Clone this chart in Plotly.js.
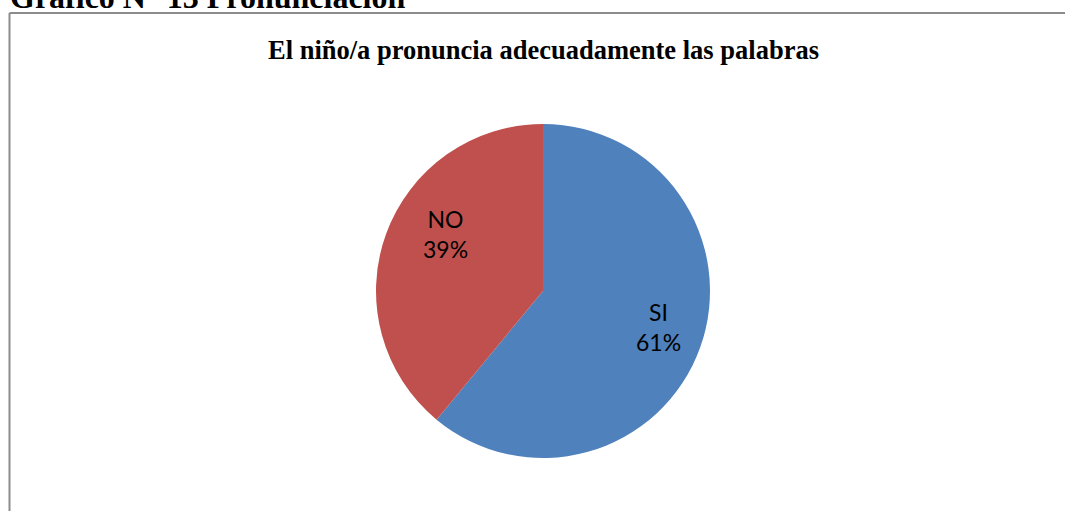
<!DOCTYPE html>
<html>
<head>
<meta charset="utf-8">
<script src="https://cdn.plot.ly/plotly-3.0.1.min.js"></script>
<style>html,body{margin:0;padding:0;background:#fff;}#chart{width:1065px;height:511px;}</style>
</head>
<body>
<div id="chart"></div>
<script>
var categories = ["SI", "NO"];
var values = [61, 39];
var colors = ["#4F81BD", "#C0504D"];
var chartTitle = "El niño/a pronuncia adecuadamente las palabras";
var header = "Gráfico N° 13 Pronunciación";

var W = 1065, H = 511;
function px(x){return x / W;}
function py(y){return 1 - y / H;}

// label anchor positions (pixels), layout only
var labelPos = [[658, 327], [445, 234]];

var total = values.reduce(function(a, b){return a + b;}, 0);

var trace = {
  type: "pie",
  labels: categories,
  values: values,
  marker: {colors: colors, line: {color: "#ffffff", width: 0}},
  sort: false,
  direction: "clockwise",
  rotation: 0,
  textinfo: "none",
  hoverinfo: "none",
  showlegend: false,
  domain: {x: [px(376), px(710)], y: [py(458), py(124)]}
};

var annotations = [
  {text: "<b>" + chartTitle + "</b>", xref: "paper", yref: "paper", x: px(543), y: py(50), xanchor: "center", yanchor: "middle", showarrow: false, font: {family: "'Liberation Serif', 'Times New Roman', serif", size: 26.5, color: "#000000"}},
  {text: "<b>" + header + "</b>", xref: "paper", yref: "paper", x: px(8), y: py(17), xanchor: "left", yanchor: "bottom", showarrow: false, font: {family: "'Liberation Serif', 'Times New Roman', serif", size: 32, color: "#000000"}}
];

categories.forEach(function(c, i){
  annotations.push({
    text: c + "<br>" + Math.round(values[i] / total * 100) + "%",
    xref: "paper", yref: "paper",
    x: px(labelPos[i][0]), y: py(labelPos[i][1]),
    xanchor: "center", yanchor: "middle", align: "center",
    showarrow: false,
    font: {family: "Lato, 'Open Sans', sans-serif", size: 23, color: "#000000"}
  });
});

var layout = {
  width: W, height: H,
  margin: {l: 0, r: 0, t: 0, b: 0},
  paper_bgcolor: "#ffffff",
  showlegend: false,
  shapes: [
    {type: "line", xref: "paper", yref: "paper", x0: px(9.5), x1: px(9.5), y0: py(13), y1: -0.1, line: {color: "#8c8c8c", width: 2}},
    {type: "line", xref: "paper", yref: "paper", x0: px(9.5), x1: 1.1, y0: py(13), y1: py(13), line: {color: "#8c8c8c", width: 2}}
  ],
  annotations: annotations
};

Plotly.newPlot("chart", [trace], layout, {displayModeBar: false, staticPlot: true});
</script>
</body>
</html>
